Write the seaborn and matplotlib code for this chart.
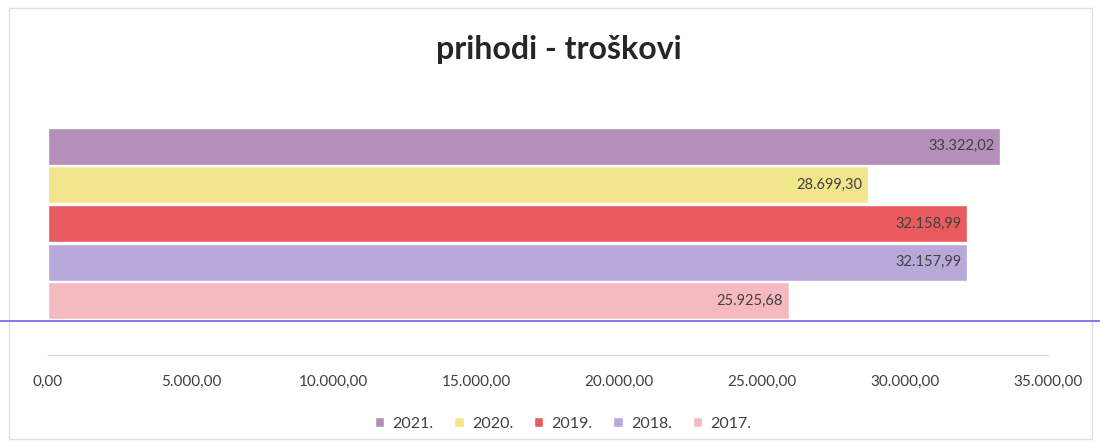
import matplotlib
matplotlib.use("Agg")
import matplotlib.pyplot as plt
import seaborn as sns
import pandas as pd
from matplotlib.lines import Line2D
from matplotlib.patches import Rectangle
from matplotlib.ticker import FuncFormatter

# podaci
kategorija = ["prihodi - troškovi"]
godine = ["2021.", "2020.", "2019.", "2018.", "2017."]
iznosi = [33322.02, 28699.30, 32158.99, 32157.99, 25925.68]
boje = ["#b48fb9", "#f2e68c", "#e95b5c", "#b9a9da", "#f6b9c0"]
x_ticks = [0, 5000, 10000, 15000, 20000, 25000, 30000, 35000]


def hr_format(v, pos=None):
    # 33322.02 -> 33.322,02
    s = f"{v:,.2f}"
    return s.replace(",", "X").replace(".", ",").replace("X", ".")


df = pd.DataFrame({
    "kategorija": kategorija * len(godine),
    "godina": godine,
    "iznos": iznosi,
})

sns.set_style("white")
plt.rcParams["font.family"] = ["Lato", "DejaVu Sans"]

fig = plt.figure(figsize=(11, 4.48), dpi=100)
ax = fig.add_axes([0.0436, 0.2076, 0.9091, 0.547])

sns.barplot(data=df, x="iznos", y="kategorija", hue="godina",
            hue_order=godine, palette=boje, orient="h", width=0.8,
            gap=0.04, saturation=1, ax=ax, legend=True)

for cont in ax.containers:
    labels = ax.bar_label(cont, labels=[hr_format(v) for v in cont.datavalues],
                          padding=-4, fontsize=10.5, color="#404040")
    for t in labels:
        t.set_ha("right")

ax.set_xlim(0, 35000)
ax.set_ylim(0.545, -0.47)
ax.set_xticks(x_ticks)
ax.xaxis.set_major_formatter(FuncFormatter(hr_format))
ax.tick_params(axis="x", length=0, pad=14, labelsize=11, labelcolor="#404040")
ax.set_yticks([])
ax.set_xlabel("")
ax.set_ylabel("")
for side in ["top", "left", "right"]:
    ax.spines[side].set_visible(False)
ax.spines["bottom"].set_color("#d9d9d9")
ax.spines["bottom"].set_linewidth(1)

handles, lbls = ax.get_legend_handles_labels()
ax.legend(handles, lbls, loc="center", bbox_to_anchor=(0.515, -0.28),
          ncol=5, frameon=False, fontsize=11.5, handlelength=0.6,
          handleheight=0.6, handletextpad=0.5, columnspacing=1.3,
          labelcolor="#404040")

fig.suptitle("prihodi - troškovi", x=0.508, y=0.89, va="center",
             fontsize=23, fontweight="bold", color="#262626")

# linija preko cijele širine i okvir grafikona
fig.add_artist(Line2D([0, 1], [1 - 321 / 448, 1 - 321 / 448],
                      color="#7b6cf0", linewidth=1.3, transform=fig.transFigure))
fig.add_artist(Rectangle((0.008, 0.02), 0.985, 0.962, fill=False,
                         edgecolor="#e0e0e0", linewidth=1,
                         transform=fig.transFigure))

fig.savefig("out.png", dpi=100, facecolor="white")
